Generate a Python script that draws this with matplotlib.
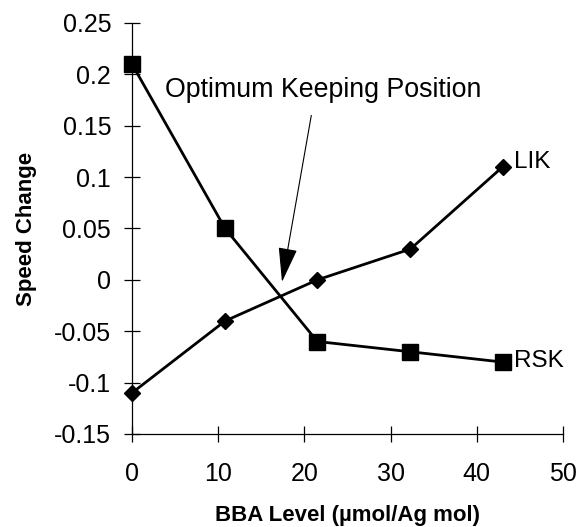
import matplotlib
matplotlib.use("Agg")
import matplotlib.pyplot as plt

plt.rcParams['font.family'] = ['Liberation Sans', 'DejaVu Sans']

bba = [0, 10.8, 21.5, 32.3, 43]
rsk = [0.21, 0.05, -0.06, -0.07, -0.08]
lik = [-0.11, -0.04, 0.0, 0.03, 0.11]
xticks = [0, 10, 20, 30, 40, 50]
yticks = [-0.15, -0.1, -0.05, 0, 0.05, 0.1, 0.15, 0.2, 0.25]
ytick_labels = ['-0.15', '-0.1', '-0.05', '0', '0.05', '0.1', '0.15', '0.2', '0.25']

fig = plt.figure(figsize=(5.8, 5.27), dpi=100)
ax = fig.add_axes([0.2276, 0.1765, 0.9707 - 0.2276, 0.9564 - 0.1765])

ax.plot(bba, rsk, color='black', lw=2, marker='s', markersize=11, clip_on=False, zorder=3)
ax.plot(bba, lik, color='black', lw=2, marker='D', markersize=8, clip_on=False, zorder=3)

ax.set_xlim(0, 50)
ax.set_ylim(-0.15, 0.25)
ax.set_xticks(xticks)
ax.set_xticklabels([str(t) for t in xticks])
ax.set_yticks(yticks)
ax.set_yticklabels(ytick_labels)

for s in ['top', 'right']:
    ax.spines[s].set_visible(False)
for s in ['left', 'bottom']:
    ax.spines[s].set_linewidth(0.9)

ax.tick_params(axis='both', direction='inout', length=12, width=0.9, labelsize=18)
ax.tick_params(axis='y', pad=9)
ax.tick_params(axis='x', pad=14)

ax.text(44.3, 0.115, 'LIK', fontsize=17.5, va='center', ha='left')
ax.text(44.3, -0.079, 'RSK', fontsize=17.5, va='center', ha='left')

ax.annotate('', xy=(17.4, -0.002), xytext=(20.8, 0.16),
            arrowprops=dict(arrowstyle='-|>,head_length=1.1,head_width=0.3',
                            mutation_scale=20, lw=0.8, color='black',
                            shrinkA=0, shrinkB=0))
ax.text(3.8, 0.185, 'Optimum Keeping Position', fontsize=19.3, va='center', ha='left')

ax.set_ylabel('Speed Change', fontsize=16, fontweight='bold', labelpad=12)
ax.set_xlabel('BBA Level (µmol/Ag mol)', fontsize=16, fontweight='bold', labelpad=14)

fig.savefig('out.png', dpi=100)
